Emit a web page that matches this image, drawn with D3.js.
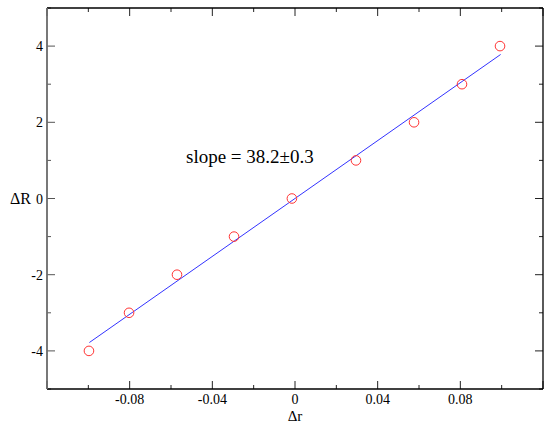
<!DOCTYPE html>
<html><head><meta charset="utf-8">
<script src="https://cdn.jsdelivr.net/npm/d3@7"></script>
<style>body{margin:0;background:#fff}svg{display:block}svg text{font-family:"Liberation Serif",serif !important}</style>
</head><body>
<svg id="c" width="554" height="428"></svg>
<script>
const pointsX = [-0.0997, -0.0803, -0.0571, -0.0295, -0.0015, 0.0295, 0.0576, 0.0808, 0.0992];
const pointsY = [-4, -3, -2, -1, 0, 1, 2, 3, 4];
const fitX = [-0.0995, 0.0995];
const fitY = [-3.78, 3.78];
const xTickLabels = ["-0.08", "-0.04", "0", "0.04", "0.08"];
const xTickValues = [-0.08, -0.04, 0, 0.04, 0.08];
const yTickLabels = ["-4", "-2", "0", "2", "4"];
const yTickValues = [-4, -2, 0, 2, 4];
const annotation = "slope = 38.2\u00b10.3";

const svg = d3.select("#c");
const L = 47, R = 543, T = 8, B = 389;
const x = d3.scaleLinear().domain([-0.12, 0.12]).range([L, R]);
const y = d3.scaleLinear().domain([-5, 5]).range([B, T]);

const xMajor = d3.range(-0.12, 0.1201, 0.04);
const xMinor = d3.range(-0.10, 0.1001, 0.04);
const yMajor = d3.range(-4, 4.01, 2);
const yMinor = d3.range(-5, 5.01, 2);

const g = svg.append("g");
function tickX(v, len) {
  g.append("line").attr("x1", x(v)).attr("x2", x(v)).attr("y1", B).attr("y2", B - len).attr("stroke", "#222").attr("stroke-width", 1);
  g.append("line").attr("x1", x(v)).attr("x2", x(v)).attr("y1", T).attr("y2", T + len).attr("stroke", "#222").attr("stroke-width", 1);
}
function tickY(v, len) {
  g.append("line").attr("x1", L).attr("x2", L + len).attr("y1", y(v)).attr("y2", y(v)).attr("stroke", "#555").attr("stroke-width", 1);
  g.append("line").attr("x1", R).attr("x2", R - len).attr("y1", y(v)).attr("y2", y(v)).attr("stroke", "#222").attr("stroke-width", 1);
}
xMajor.forEach(v => tickX(v, 8));
xMinor.forEach(v => tickX(v, 4));
yMajor.forEach(v => tickY(v, 8));
yMinor.forEach(v => tickY(v, 4));

// frame
svg.append("line").attr("x1", L).attr("x2", R).attr("y1", T).attr("y2", T).attr("stroke", "#000").attr("stroke-width", 1.3);
svg.append("line").attr("x1", L).attr("x2", R).attr("y1", B).attr("y2", B).attr("stroke", "#000").attr("stroke-width", 1.3);
svg.append("line").attr("x1", R).attr("x2", R).attr("y1", T).attr("y2", B).attr("stroke", "#000").attr("stroke-width", 1.3);
svg.append("line").attr("x1", L).attr("x2", L).attr("y1", T).attr("y2", B).attr("stroke", "#6a6a6a").attr("stroke-width", 1.8);

// tick labels
svg.selectAll(".xl").data(xTickValues).join("text").attr("x", d => x(d)).attr("y", 404)
  .attr("text-anchor", "middle").attr("font-size", 14).text((d, i) => xTickLabels[i]);
svg.selectAll(".yl").data(yTickValues).join("text").attr("x", 43).attr("y", d => y(d) + 5)
  .attr("text-anchor", "end").attr("font-size", 14).text((d, i) => yTickLabels[i]);

// axis titles
svg.append("text").attr("x", 295).attr("y", 421).attr("text-anchor", "middle").attr("font-size", 15).text("\u0394r");
svg.append("text").attr("x", 10).attr("y", 204).attr("font-size", 16).text("\u0394R");

// fit line
svg.append("path").datum(fitX.map((d, i) => [d, fitY[i]]))
  .attr("d", d3.line().x(d => x(d[0])).y(d => y(d[1])))
  .attr("stroke", "#3333ff").attr("stroke-width", 1).attr("fill", "none");

// points
svg.selectAll(".pt").data(pointsX.map((d, i) => [d, pointsY[i]])).join("circle")
  .attr("cx", d => x(d[0])).attr("cy", d => y(d[1])).attr("r", 4.8)
  .attr("fill", "none").attr("stroke", "#ff3333").attr("stroke-width", 1);

svg.append("text").attr("x", 186).attr("y", 163).attr("font-size", 19).text(annotation);
</script>
</body></html>
